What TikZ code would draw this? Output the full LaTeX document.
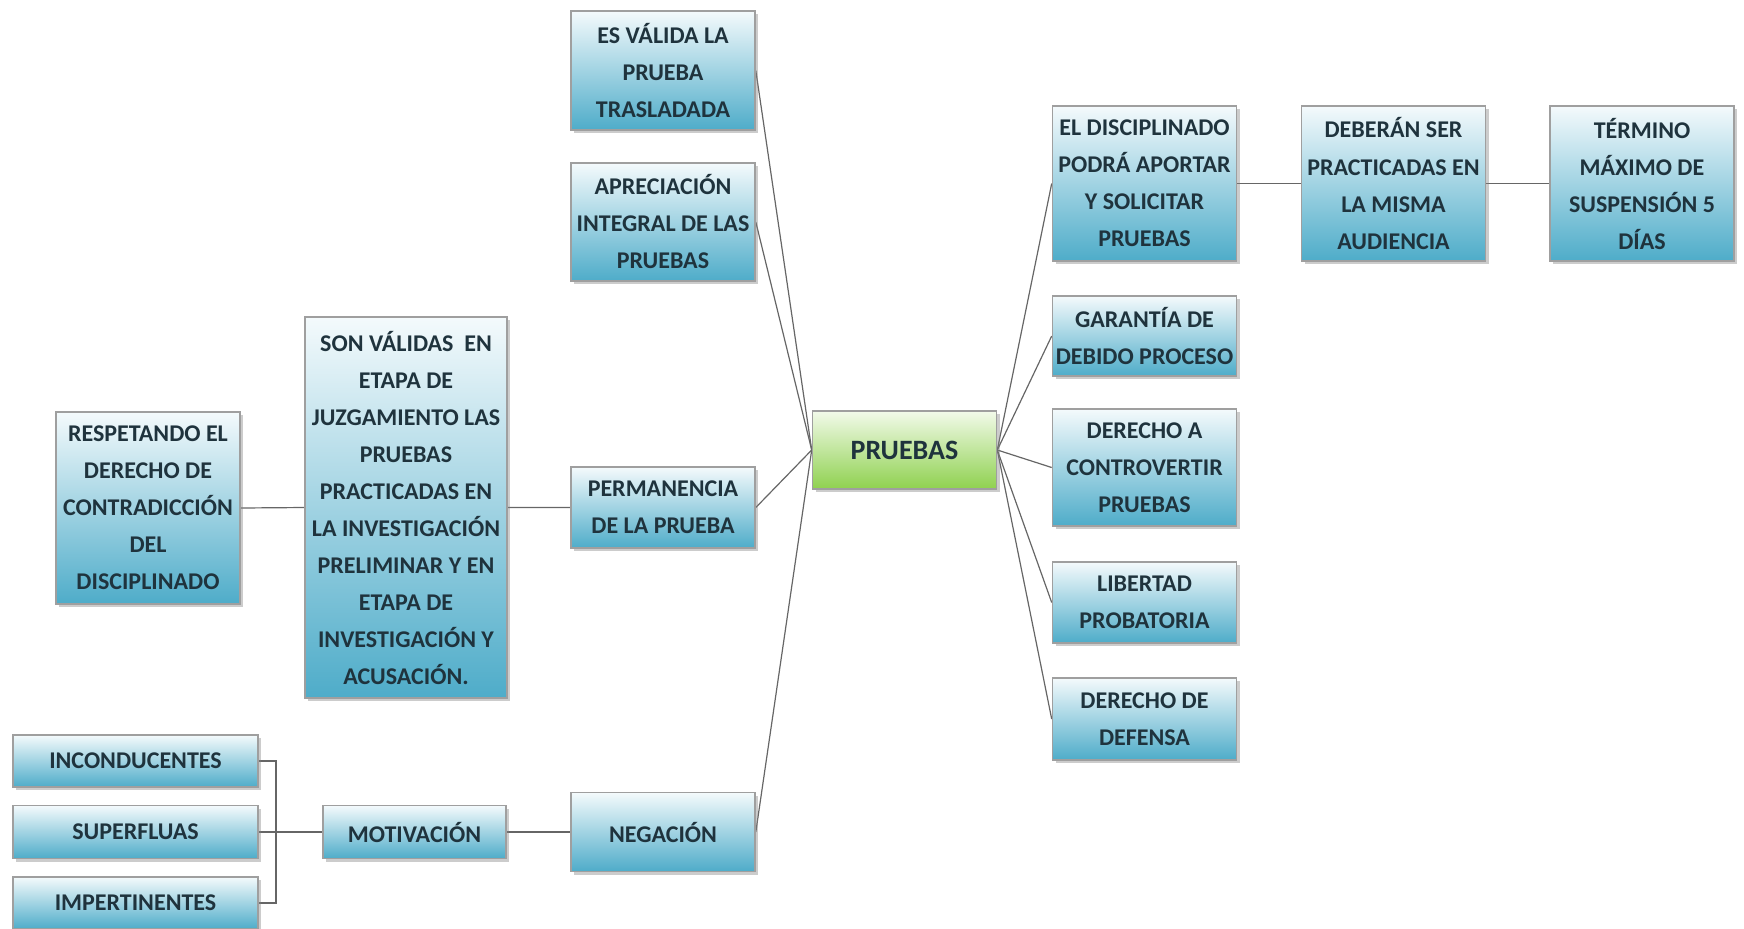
\documentclass[tikz,border=0pt]{standalone}
\usepackage{fontspec}
\setmainfont{Carlito}
\usetikzlibrary{shadows,backgrounds}
\definecolor{boxblue}{HTML}{4EACC9}
\definecolor{boxtop}{HTML}{F4FAFC}
\definecolor{hubgreen}{HTML}{8FD14F}
\definecolor{hubtop}{HTML}{F2FAEA}
\definecolor{inkdark}{HTML}{1F333D}

\begin{document}
\begin{tikzpicture}[x=0.5pt,y=-0.5pt,
  box/.style={draw=gray!75,line width=0.8pt,top color=boxtop,middle color=boxblue!45!white,bottom color=boxblue,
    text=inkdark,align=center,inner sep=1pt,minimum width=92pt,
    font=\bfseries\fontsize{12}{18.5}\selectfont,
    drop shadow={shadow xshift=1.5pt,shadow yshift=-1.5pt,opacity=.4}},
  hub/.style={box,top color=hubtop,middle color=hubgreen!55!white,bottom color=hubgreen,font=\bfseries\fontsize{14}{17}\selectfont},
  link/.style={draw=gray!80!black,line width=0.6pt}]
\useasboundingbox (0,0) rectangle (1744,928);
% left branch
\node[box,minimum height=59.5pt] (trasl) at (663,70.5) {ES VÁLIDA LA\\PRUEBA\\TRASLADADA};
\node[box,minimum height=59pt] (aprec) at (663,222) {APRECIACIÓN\\INTEGRAL DE LAS\\PRUEBAS};
\node[box,minimum height=40.5pt] (perman) at (663,507.5) {PERMANENCIA\\DE LA PRUEBA};
\node[box,minimum height=39.5pt] (negac) at (663,832) {NEGACIÓN};
\node[box,minimum width=101pt,minimum height=190.5pt] (validas) at (406,507.5) {SON VÁLIDAS\ \ EN\\ETAPA DE\\JUZGAMIENTO LAS\\PRUEBAS\\PRACTICADAS EN\\LA INVESTIGACIÓN\\PRELIMINAR Y EN\\ETAPA DE\\INVESTIGACIÓN Y\\ACUSACIÓN.};
\node[box,minimum height=96pt] (contra) at (148,508) {RESPETANDO EL\\DERECHO DE\\CONTRADICCIÓN\\DEL\\DISCIPLINADO};
\node[box,minimum width=91.5pt,minimum height=26.5pt] (motiv) at (414.5,832) {MOTIVACIÓN};
\node[box,minimum width=122.5pt,minimum height=26pt] (incond) at (135.5,761) {INCONDUCENTES};
\node[box,minimum width=122.5pt,minimum height=26.5pt] (superf) at (135.5,832) {SUPERFLUAS};
\node[box,minimum width=122.5pt,minimum height=26pt] (impert) at (135.5,903) {IMPERTINENTES};
% centre
\node[hub,minimum height=39pt] (pruebas) at (904.5,450) {PRUEBAS};
% right branch
\node[box,minimum height=77.5pt] (aporta) at (1144.5,183.5) {EL DISCIPLINADO\\PODRÁ APORTAR\\Y SOLICITAR\\PRUEBAS};
\node[box,minimum height=77.5pt] (audien) at (1393.5,183.5) {DEBERÁN SER\\PRACTICADAS EN\\LA MISMA\\AUDIENCIA};
\node[box,minimum height=77.5pt] (termino) at (1642,183.5) {TÉRMINO\\MÁXIMO DE\\SUSPENSIÓN 5\\DÍAS};
\node[box,minimum height=40pt] (debido) at (1144.5,336) {GARANTÍA DE\\DEBIDO PROCESO};
\node[box,minimum height=58.5pt] (contro) at (1144.5,467.5) {DERECHO A\\CONTROVERTIR\\PRUEBAS};
\node[box,minimum height=40.5pt] (libert) at (1144.5,602.5) {LIBERTAD\\PROBATORIA};
\node[box,minimum height=41pt] (defensa) at (1144.5,719) {DERECHO DE\\DEFENSA};
% connectors
\begin{scope}[on background layer]
\foreach \c in {trasl,aprec,perman,negac} \draw[link] (pruebas.west) -- (\c.east);
\foreach \c in {aporta,debido,contro,libert,defensa} \draw[link] (pruebas.east) -- (\c.west);
\draw[link] (contra.east) -- (validas.west) (validas.east) -- (perman.west);
\draw[link] (motiv.east) -- (negac.west);
\coordinate (fork) at (276,832);
\draw[link] (incond.east) -| (fork) |- (impert.east);
\draw[link] (superf.east) -- (motiv.west);
\draw[link] (aporta.east) -- (audien.west) (audien.east) -- (termino.west);
\end{scope}
\end{tikzpicture}
\end{document}
